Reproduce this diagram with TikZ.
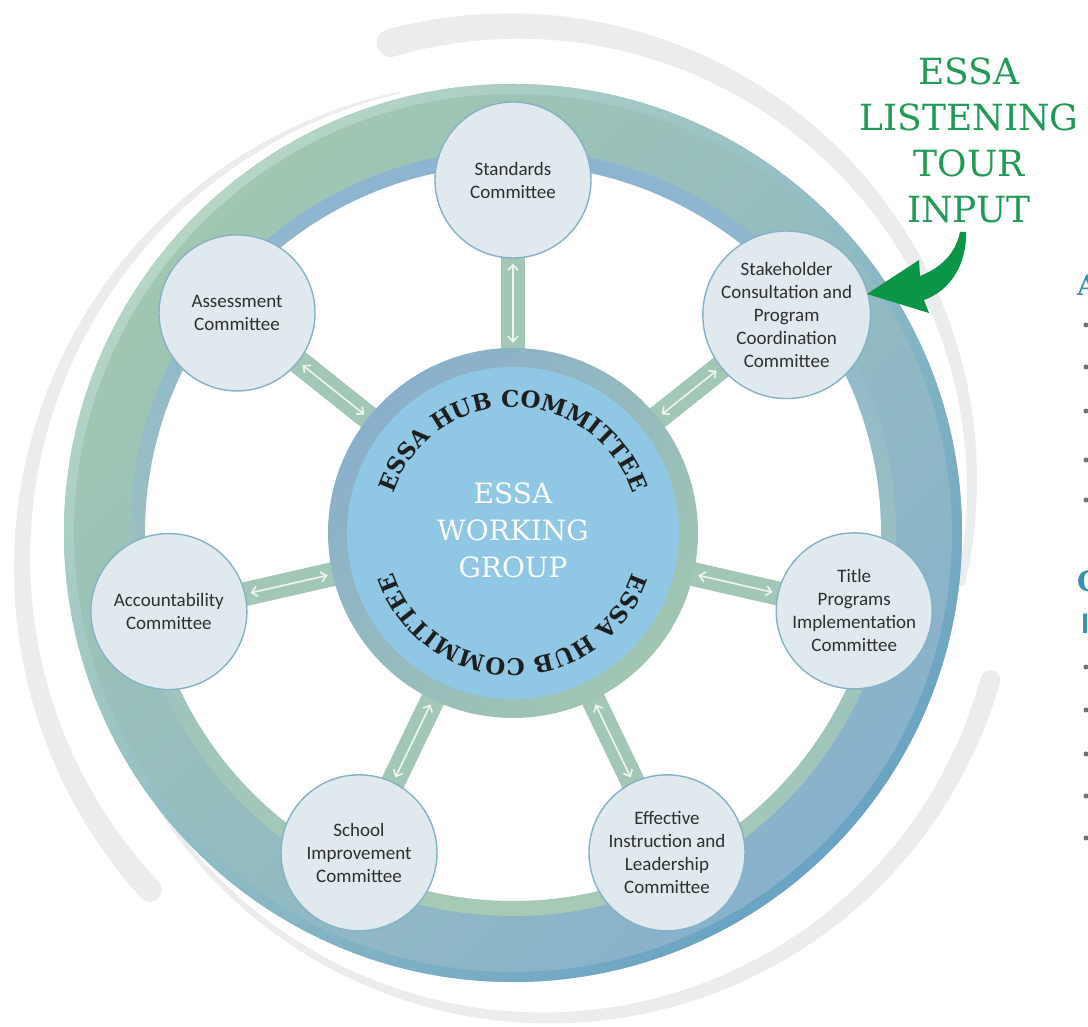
\documentclass[tikz,border=0pt]{standalone}
\usepackage{fontspec}
\setmainfont{Carlito}
\newfontfamily\slab{DejaVu Serif}
\usetikzlibrary{arrows.meta,decorations.text}
\pgfdeclarelayer{background}
\pgfsetlayers{background,main}
\definecolor{bandgreen}{HTML}{A1C7B1}
\definecolor{bandblue}{HTML}{88B1CD}
\definecolor{rimlight}{HTML}{B6D5C5}
\definecolor{rimdark}{HTML}{6AA3C3}
\definecolor{thinblue}{HTML}{8CB4D2}
\definecolor{thingreen}{HTML}{A6CAB4}
\definecolor{hubblue}{HTML}{8AAFCB}
\definecolor{hubgreen}{HTML}{A0C6B1}
\definecolor{hubfill}{HTML}{8FC7E5}
\definecolor{nodefill}{HTML}{DFE9EE}
\definecolor{nodeline}{HTML}{86B2C6}
\definecolor{spokecol}{HTML}{A3C7B7}
\definecolor{arrowwhite}{HTML}{EEF6F2}
\definecolor{swooshgray}{HTML}{EAECEE}
\definecolor{tourgreen}{HTML}{1F9A57}
\definecolor{arrowgreen}{HTML}{0B9546}
\definecolor{txt}{HTML}{2E2E2E}
\definecolor{hubtext}{HTML}{1E1E1E}
\definecolor{edgeblue}{HTML}{3A8FB0}
\definecolor{bulletgray}{HTML}{707070}
\begin{document}
\begin{tikzpicture}[x=1pt,y=1pt,
  comm/.style={circle, minimum size=156pt, inner sep=0pt, fill=nodefill, draw=nodeline,
    line width=1.4pt, align=center, text=txt, font=\fontsize{19}{23}\selectfont},
  spoke/.style={line width=24pt, draw=spokecol},
  twoway/.style={draw=arrowwhite, line width=1.6pt, shorten >=5pt, shorten <=5pt,
    >={Straight Barb[length=5.5pt,width=10pt]}, <->},
  swoosh/.style={fill=swooshgray},
  hubarc/.style={decorate, decoration={text along path, text align=center, text color=hubtext,
    text={|\slab\bfseries\fontsize{23}{23}\selectfont|ESSA HUB COMMITTEE}}}
]
\begin{pgfonlayer}{background}
\fill[white] (0,0) rectangle (1088,1027);
\end{pgfonlayer}
\useasboundingbox (0,0) rectangle (1088,1027);
\coordinate (C) at (513,494);
\coordinate (GA) at (514,543);
\coordinate (GB) at (546,470);
\coordinate (GC) at (504,464);

% hub
\shade[top color=hubblue, bottom color=hubgreen, shading angle=45] (C) circle (185);
\fill[hubfill] (C) circle (166);
\node[circle, minimum size=370pt, inner sep=0pt] (hub) at (C) {};

% committees
\node[comm] (std)    at ([shift={(90:353)}]C)     {Standards\\Committee};
\node[comm] (assess) at ([shift={(141.43:353)}]C) {Assessment\\Committee};
\node[comm] (acct)   at ([shift={(192.86:353)}]C) {Accountability\\Committee};
\node[comm] (school) at ([shift={(244.29:355)}]C) {School\\Improvement\\Committee};
\node[comm] (eff)    at ([shift={(295.71:355)}]C) {Effective\\Instruction and\\Leadership\\Committee};
\node[comm] (title)  at ([shift={(347.14:350)}]C) {Title\\Programs\\Implementation\\Committee};
\node[comm] (stake)  at ([shift={(38.57:350)}]C)  {Stakeholder\\Consultation and\\Program\\Coordination\\Committee};

\begin{pgfonlayer}{background}
% grey swooshes
\fill[swoosh] plot[domain=-12.4:105.6, samples=60] ({514+(462+10*(\x+12.4)/118)*cos(\x)}, {543+(462+10*(\x+12.4)/118)*sin(\x)})
  -- plot[domain=105.6:-12.4, samples=60] ({514+(454-10*(\x+12.4)/118)*cos(\x)}, {543+(454-10*(\x+12.4)/118)*sin(\x)}) -- cycle;
\fill[swoosh] ([shift={(105.6:458)}]GA) circle (14);
\fill[swoosh] ([shift={(-12.4:458)}]GA) circle (4);
\fill[swoosh] plot[domain=-146.8:-15.5, samples=60] ({546+(463+8*(\x+146.8)/131.3)*cos(\x)}, {470+(463+8*(\x+146.8)/131.3)*sin(\x)})
  -- plot[domain=-15.5:-146.8, samples=60] ({546+(459-8*(\x+146.8)/131.3)*cos(\x)}, {470+(459-8*(\x+146.8)/131.3)*sin(\x)}) -- cycle;
\fill[swoosh] ([shift={(-15.5:461)}]GB) circle (10);
\fill[swoosh] plot[domain=102.5:222.7, samples=60] ({504+(483+11*(\x-102.5)/120.2)*cos(\x)}, {464+(483+11*(\x-102.5)/120.2)*sin(\x)})
  -- plot[domain=222.7:102.5, samples=60] ({504+(481-11*(\x-102.5)/120.2)*cos(\x)}, {464+(481-11*(\x-102.5)/120.2)*sin(\x)}) -- cycle;
\fill[swoosh] ([shift={(222.7:482)}]GC) circle (12);
% ring
\shade[top color=bandgreen, bottom color=bandblue, shading angle=45, even odd rule] (C) circle (449) (C) circle (382);
\shade[top color=rimlight, bottom color=rimdark, shading angle=45, even odd rule] (C) circle (449) (C) circle (439);
\shade[top color=thinblue, bottom color=thingreen, even odd rule] (C) circle (383) (C) circle (368);
% spokes
\foreach \n in {std,assess,acct,school,eff,title,stake}
  \draw[spoke] (hub.center) -- (\n.center);
\end{pgfonlayer}

\foreach \n in {std,assess,acct,school,eff,title,stake}
  \draw[twoway] (hub) -- (\n);

% hub texts
\path[hubarc] ([shift={(172:126)}]C) arc[start angle=172, end angle=8, radius=126];
\path[hubarc] ([shift={(-8:126)}]C) arc[start angle=-8, end angle=-172, radius=126];
\node[font=\slab\fontsize{28}{37}\selectfont, text=white, align=center] (wg) at (513,497) {ESSA\\WORKING\\GROUP};

% listening tour
\node[anchor=north, align=center, inner sep=0pt, font=\slab\fontsize{36}{46}\selectfont, text=tourgreen] (tour) at (969,969) {ESSA\\LISTENING\\TOUR\\INPUT};
\fill[arrowgreen] (867,733) -- (919,767) -- (920,751) .. controls (940,759) and (955,772) .. (960,795)
  -- (966,795) .. controls (967,765) and (952,737) .. (924,727) -- (929,714) -- cycle;

% cut-off column at right edge
\begin{scope}
\clip (1060,0) rectangle (1088,1027);
\node[anchor=south west, inner sep=0pt, text=edgeblue, font=\slab\bfseries\fontsize{28}{28}\selectfont] (ea) at (1077,731) {A};
\node[anchor=south west, inner sep=0pt, text=edgeblue, font=\slab\bfseries\fontsize{28}{28}\selectfont] (ec) at (1077,435) {C};
\node[anchor=south west, inner sep=0pt, text=edgeblue, font=\bfseries\fontsize{30}{30}\selectfont] (ei) at (1081,393) {I};
\foreach \y in {702,660,616,567,527,360,317,273,231,189}
  \fill[bulletgray] (1086,\y) circle (2.5);
\end{scope}
\end{tikzpicture}
\end{document}
